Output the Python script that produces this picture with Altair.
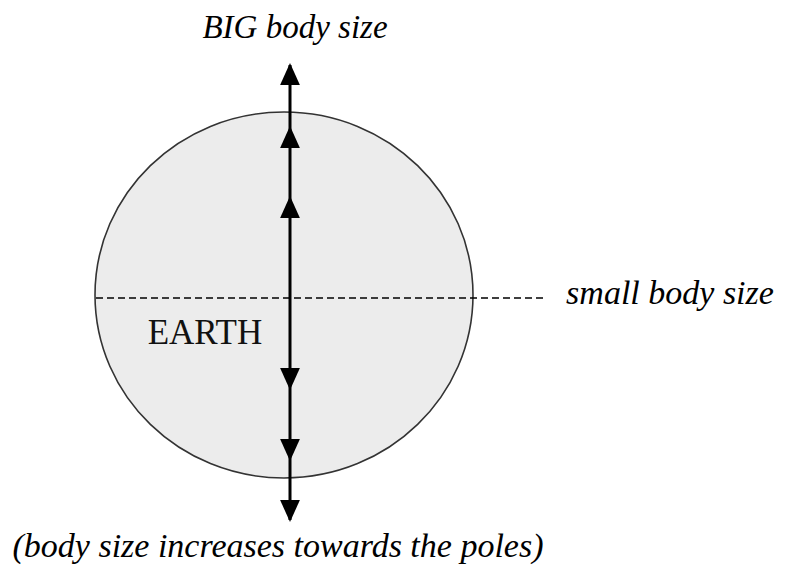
import altair as alt
import pandas as pd

# Diagram elements (page-pixel coordinates)
globe_center = [{"x": 284, "y": 295}]
equator = [{"x": 96, "x2": 545, "y": 298}]
axis_line = [{"x": 290, "y": 65, "y2": 520}]
up_arrow_y = [74, 137, 207]
down_arrow_y = [379, 450, 511]
label_text = ["BIG body size", "small body size", "(body size increases towards the poles)"]
label_x = [295, 670, 278]
label_y = [38, 304, 557]
label_size = [33, 34, 34]
earth_label = [{"x": 205, "y": 344, "t": "EARTH"}]

X = lambda f="x": alt.X(f"{f}:Q", scale=alt.Scale(domain=[8, 784], nice=False, zero=False), axis=None)
Y = lambda f="y": alt.Y(f"{f}:Q", scale=alt.Scale(domain=[566, 8], nice=False, zero=False), axis=None)

globe = alt.Chart(pd.DataFrame(globe_center)).mark_point(
    shape="M-1,0A1,0.968,0,1,0,1,0A1,0.968,0,1,0,-1,0Z",
    size=378 * 378, fill="#ececec", stroke="#333333", strokeWidth=1.6,
    opacity=1, fillOpacity=1,
).encode(x=X(), y=Y())

eq = alt.Chart(pd.DataFrame(equator)).mark_rule(
    color="black", strokeWidth=1.5, strokeDash=[7, 4]
).encode(x=X(), x2="x2:Q", y=Y())

ax = alt.Chart(pd.DataFrame(axis_line)).mark_rule(
    color="black", strokeWidth=3
).encode(x=X(), y=Y(), y2="y2:Q")

ups = alt.Chart(pd.DataFrame({"x": [290] * len(up_arrow_y), "y": up_arrow_y})).mark_point(
    shape="M0,-1L0.9,1L-0.9,1Z", size=484, filled=True, color="black", opacity=1
).encode(x=X(), y=Y())

downs = alt.Chart(pd.DataFrame({"x": [290] * len(down_arrow_y), "y": down_arrow_y})).mark_point(
    shape="M0,1L0.9,-1L-0.9,-1Z", size=484, filled=True, color="black", opacity=1
).encode(x=X(), y=Y())

labels = alt.Chart(pd.DataFrame({"x": label_x, "y": label_y, "t": label_text, "s": label_size})).mark_text(
    font="Liberation Serif", fontStyle="italic", color="black",
    align="center", baseline="alphabetic",
).encode(x=X(), y=Y(), text="t:N", size=alt.Size("s:Q", scale=None, legend=None))

earth = alt.Chart(pd.DataFrame(earth_label)).mark_text(
    font="Liberation Serif", fontSize=35, color="#111111",
    align="center", baseline="alphabetic",
).encode(x=X(), y=Y(), text="t:N")

chart = alt.layer(globe, eq, ax, ups, downs, labels, earth).properties(
    width=776, height=558, padding=0, autosize=alt.AutoSizeParams(type="none"),
    background="white",
).configure_view(stroke=None)

chart.save("out.html", embed_options={"renderer": "svg", "actions": False})
